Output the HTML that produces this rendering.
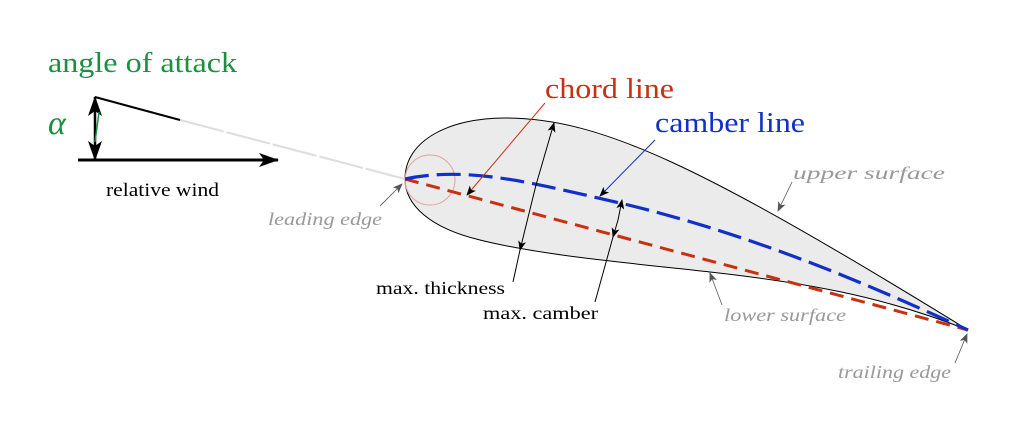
<!DOCTYPE html>
<html><head><meta charset="utf-8"><style>
html,body{margin:0;padding:0;background:#fff;}
svg{display:block;}
</style></head><body>
<svg width="1022" height="433" viewBox="0 0 1022 433" xmlns="http://www.w3.org/2000/svg" font-family="'Liberation Serif', 'DejaVu Serif', serif">
<defs>
<marker id="ab" markerWidth="10" markerHeight="8" refX="9" refY="4" orient="auto" markerUnits="userSpaceOnUse"><path d="M0,0 L10,4 L0,8 L2.5,4z" fill="#000"/></marker>
<marker id="ag" markerWidth="10" markerHeight="8" refX="9" refY="4" orient="auto" markerUnits="userSpaceOnUse"><path d="M0,0 L10,4 L0,8 L2.5,4z" fill="#555"/></marker>
<marker id="big" markerWidth="20" markerHeight="14" refX="19" refY="7" orient="auto" markerUnits="userSpaceOnUse"><path d="M0,0 L20,7 L0,14 L5,7z" fill="#000"/></marker>
</defs>
<path d="M405,179 C405,140 450,118 505,118 C600,118 700,165 968,330 C880,295 800,282 710,272 C620,262 540,255 480,240 C430,228 405,205 405,179 Z" fill="#ebebeb" stroke="#000" stroke-width="1"/>
<circle cx="430" cy="180" r="25" fill="none" stroke="#e0a0a0" stroke-width="1"/>
<line x1="180" y1="120" x2="405" y2="179" stroke="#ddd" stroke-width="2" stroke-dasharray="45,3"/>
<line x1="95" y1="97" x2="180" y2="120" stroke="#000" stroke-width="2"/>
<line x1="405" y1="179" x2="968" y2="330" stroke="#c83010" stroke-width="3" stroke-dasharray="14,8"/>
<path d="M405,179 C470,165 540,185 620,203 C760,236 880,290 968,330" fill="none" stroke="#1030c8" stroke-width="3.2" stroke-dasharray="24,8"/>
<line x1="78" y1="160" x2="278" y2="160" stroke="#000" stroke-width="3" marker-end="url(#big)"/>
<line x1="95" y1="128" x2="95" y2="97" stroke="#000" stroke-width="2.5" marker-end="url(#big)"/>
<line x1="95" y1="128" x2="95" y2="160" stroke="#000" stroke-width="2.5" marker-end="url(#big)"/>
<line x1="99" y1="112" x2="95" y2="142" stroke="#1a9040" stroke-width="1.5"/>
<line x1="545" y1="103" x2="467" y2="195" stroke="#c83010" stroke-width="1" marker-end="url(#ab)"/>
<line x1="655" y1="140" x2="600" y2="196" stroke="#1030c8" stroke-width="1" marker-end="url(#ab)"/>
<line x1="536" y1="185" x2="554" y2="123" stroke="#000" stroke-width="1" marker-end="url(#ab)"/>
<line x1="536" y1="185" x2="520" y2="250" stroke="#000" stroke-width="1" marker-end="url(#ab)"/>
<line x1="520" y1="250" x2="513" y2="282" stroke="#000" stroke-width="1"/>
<line x1="618" y1="220" x2="622" y2="200" stroke="#000" stroke-width="1" marker-end="url(#ab)"/>
<line x1="618" y1="220" x2="613" y2="237" stroke="#000" stroke-width="1" marker-end="url(#ab)"/>
<line x1="613" y1="237" x2="595" y2="302" stroke="#000" stroke-width="1"/>
<line x1="380" y1="206" x2="402" y2="184" stroke="#555" stroke-width="0.8" marker-end="url(#ag)"/>
<line x1="792" y1="182" x2="778" y2="211" stroke="#555" stroke-width="0.8" marker-end="url(#ag)"/>
<line x1="722" y1="305" x2="710" y2="273" stroke="#555" stroke-width="0.8" marker-end="url(#ag)"/>
<line x1="955" y1="363" x2="967" y2="334" stroke="#555" stroke-width="0.8" marker-end="url(#ag)"/>
<text x="48" y="72" font-size="29" fill="#1a9040" textLength="189" lengthAdjust="spacingAndGlyphs">angle of attack</text>
<text x="48" y="134" font-size="34" font-style="italic" fill="#1a9040">α</text>
<text x="106" y="196" font-size="19" fill="#000" textLength="113" lengthAdjust="spacingAndGlyphs">relative wind</text>
<text x="545" y="98" font-size="29" fill="#c83010" textLength="129" lengthAdjust="spacingAndGlyphs">chord line</text>
<text x="655" y="132" font-size="29" fill="#1030c8" textLength="150" lengthAdjust="spacingAndGlyphs">camber line</text>
<text x="793" y="179" font-size="18" font-style="italic" fill="#999" textLength="152" lengthAdjust="spacingAndGlyphs">upper surface</text>
<text x="268" y="225" font-size="18" font-style="italic" fill="#999" textLength="114" lengthAdjust="spacingAndGlyphs">leading edge</text>
<text x="376" y="294" font-size="18" fill="#000" textLength="129" lengthAdjust="spacingAndGlyphs">max. thickness</text>
<text x="483" y="319" font-size="18" fill="#000" textLength="115" lengthAdjust="spacingAndGlyphs">max. camber</text>
<text x="724" y="321" font-size="18" font-style="italic" fill="#999" textLength="122" lengthAdjust="spacingAndGlyphs">lower surface</text>
<text x="838" y="378" font-size="18" font-style="italic" fill="#999" textLength="113" lengthAdjust="spacingAndGlyphs">trailing edge</text>
</svg>
</body></html>
